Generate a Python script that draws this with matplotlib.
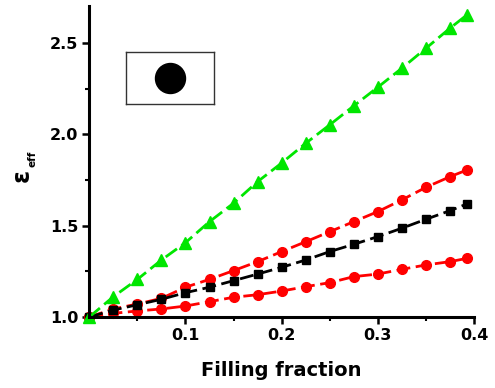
import numpy as np
import matplotlib
matplotlib.use('Agg')
import matplotlib.pyplot as plt
from matplotlib.ticker import MultipleLocator

plt.rcParams['font.family'] = 'DejaVu Sans'
plt.rcParams['font.weight'] = 'bold'

# filling fraction (last point is pi/8)
f = [0.0, 0.025, 0.05, 0.075, 0.1, 0.125, 0.15, 0.175, 0.2, 0.225,
     0.25, 0.275, 0.3, 0.325, 0.35, 0.375, 0.3927]

eps_green = [1.0, 1.111, 1.206, 1.312, 1.407, 1.522, 1.623, 1.741, 1.843,
             1.951, 2.052, 2.156, 2.258, 2.362, 2.471, 2.581, 2.654]
eps_red_up = [1.0, 1.044, 1.071, 1.102, 1.163, 1.206, 1.254, 1.303, 1.358,
              1.412, 1.467, 1.522, 1.577, 1.641, 1.710, 1.768, 1.805]
eps_black = [1.0, 1.038, 1.067, 1.097, 1.133, 1.163, 1.199, 1.235, 1.272,
             1.312, 1.358, 1.398, 1.440, 1.486, 1.535, 1.582, 1.619]
eps_red_lo = [1.0, 1.020, 1.033, 1.044, 1.060, 1.084, 1.108, 1.122, 1.142,
              1.166, 1.188, 1.221, 1.235, 1.261, 1.285, 1.303, 1.321]

fig = plt.figure(figsize=(4.95, 3.88), dpi=100)
ax = fig.add_axes([0.1804, 0.183, 0.7772, 0.8003])

dash = (0, (5, 2))
ax.plot(f, eps_red_lo, color='#ff0000', ls=dash, lw=2, marker='o', ms=7, clip_on=False)
ax.plot(f, eps_red_up, color='#ff0000', ls=dash, lw=2, marker='o', ms=7, clip_on=False)
ax.plot(f, eps_black, color='black', ls=dash, lw=2, marker='s', ms=5.5, clip_on=False)
ax.plot(f, eps_green, color='#00e600', ls=dash, lw=2, marker='^', ms=8.5, clip_on=False)

ax.set_xlim(0, 0.4)
ax.set_ylim(1.0, 2.7)
ax.xaxis.set_minor_locator(MultipleLocator(0.05))
ax.yaxis.set_minor_locator(MultipleLocator(0.25))
ax.set_xticks([0.1, 0.2, 0.3, 0.4])
ax.set_yticks([1.0, 1.5, 2.0, 2.5])

for s in ['top', 'right']:
    ax.spines[s].set_visible(False)
for s in ['left', 'bottom']:
    ax.spines[s].set_linewidth(2.2)

ax.tick_params(which='major', direction='out', length=5, width=1.8, labelsize=11.5, pad=3)
ax.tick_params(which='minor', direction='out', length=3, width=1.5)
for lab in ax.get_xticklabels() + ax.get_yticklabels():
    lab.set_fontweight('bold')

ax.set_xlabel('Filling fraction', fontsize=14, fontweight='bold', labelpad=13)

# y label: epsilon with small bold subscript
fig.text(0.0434, 0.549, '\u03b5', rotation=90, fontsize=17, fontweight='bold',
         ha='center', va='center')
fig.text(0.0666, 0.590, 'eff', rotation=90, fontsize=7.5, fontweight='bold',
         ha='center', va='center')

# inset: unit cell with a circular rod
ins = fig.add_axes([0.2545, 0.7312, 0.1772, 0.1356])
ins.set_xticks([])
ins.set_yticks([])
ins.set_xlim(0, 1)
ins.set_ylim(0, 1)
for s in ins.spines.values():
    s.set_linewidth(1.0)
    s.set_color('#333333')
ins.plot(0.5, 0.5, 'o', color='black', ms=21.6)

fig.savefig('out.png', dpi=100)
